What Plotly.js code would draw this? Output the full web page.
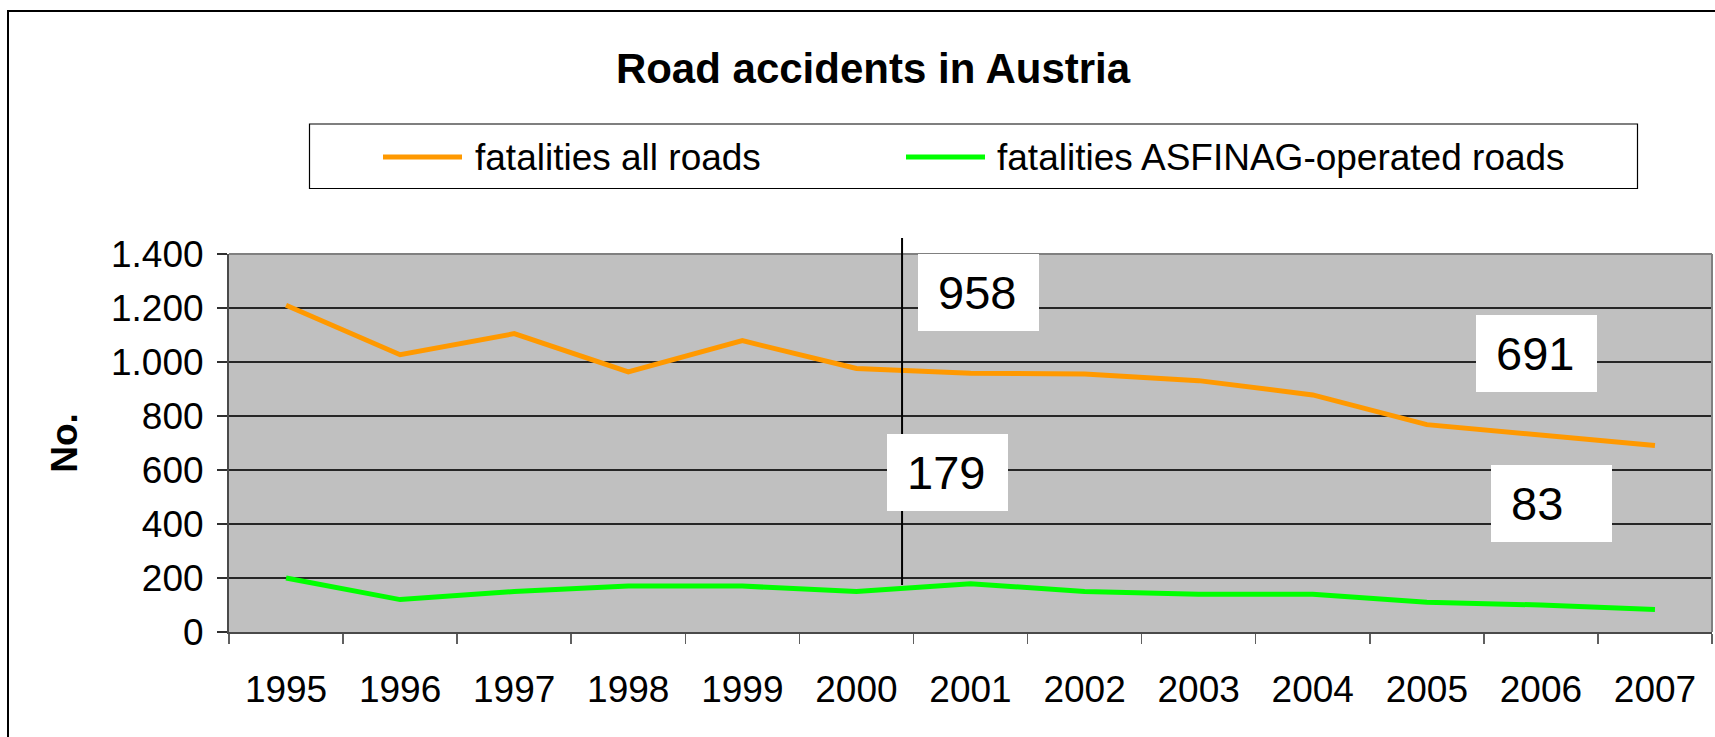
<!DOCTYPE html>
<html><head><meta charset="utf-8">
<script src="https://cdn.plot.ly/plotly-3.0.1.min.js"></script>
<style>html,body{margin:0;padding:0;background:#fff;overflow:hidden}</style>
</head><body><div id="chart" style="width:1715px;height:737px"></div>
<script>
// ---- data ----
const years = ['1995','1996','1997','1998','1999','2000','2001','2002','2003','2004','2005','2006','2007'];
const allRoads = [1210, 1027, 1105, 963, 1079, 976, 958, 956, 931, 878, 768, 730, 691];
const asfinag  = [200, 120, 150, 170, 170, 150, 179, 150, 140, 140, 110, 100, 83];
const seriesNames = ['fatalities all roads', 'fatalities ASFINAG-operated roads'];
const yTickVals = [0, 200, 400, 600, 800, 1000, 1200, 1400];
const chartTitle = 'Road accidents in Austria';
const yTitle = 'No.';

// ---- styling / layout ----
const W = 1715, H = 737;
const M = {l: 229, r: 3, t: 254, b: 105};
const pw = W - M.l - M.r, ph = H - M.t - M.b;
const px = x => (x - M.l) / pw;
const py = y => (H - M.b - y) / ph;
const FONT = 'Liberation Sans, Arial, Helvetica, sans-serif';
const colors = ['#FF9900', '#00FF00'];
const yMax = 1400;
const markerLineX = 5.4; // between 2000 and 2001 (category index)

const traces = [
  {x: years, y: allRoads, name: seriesNames[0], type: 'scatter', mode: 'lines',
   line: {color: colors[0], width: 5}, showlegend: false, hoverinfo: 'x+y'},
  {x: years, y: asfinag, name: seriesNames[1], type: 'scatter', mode: 'lines',
   line: {color: colors[1], width: 5}, showlegend: false, hoverinfo: 'x+y'}
];

// value label anchored at the data point (converted to paper fractions), shifted by pixels
function valueLabel(series, year, xs, ys) {
  const idx = years.indexOf(year);
  const val = series[idx];
  return {x: (idx + 0.5) / years.length, y: val / yMax, xref: 'paper', yref: 'paper',
    text: String(val), showarrow: false,
    xshift: xs, yshift: ys, xanchor: 'center', yanchor: 'middle',
    bgcolor: '#ffffff', borderwidth: 0, borderpad: 20, width: 81, height: 37, align: 'left', valign: 'middle',
    font: {family: FONT, size: 47, color: '#000'}};
}

const annotations = [
  valueLabel(allRoads, '2001', 7.5, 81.3),
  valueLabel(asfinag, '2001', -23, 110.9),
  valueLabel(allRoads, '2007', -118, 91.5),
  valueLabel(asfinag, '2007', -103, 105.8),
  {xref: 'paper', yref: 'paper', x: px(473), y: py(157), xanchor: 'left', yanchor: 'middle',
   text: seriesNames[0], showarrow: false, font: {family: FONT, size: 37, color: '#000'}},
  {xref: 'paper', yref: 'paper', x: px(995), y: py(157), xanchor: 'left', yanchor: 'middle',
   text: seriesNames[1], showarrow: false, font: {family: FONT, size: 37, color: '#000'}}
];

const shapes = [
  // outer chart border
  {type: 'rect', xref: 'paper', yref: 'paper', x0: px(8), x1: px(1760), y0: py(780), y1: py(11),
   line: {color: '#000', width: 2}, fillcolor: 'rgba(0,0,0,0)', layer: 'above'},
  // legend box
  {type: 'rect', xref: 'paper', yref: 'paper', x0: px(309.5), x1: px(1637.5), y0: py(188.5), y1: py(124),
   line: {color: '#000', width: 1.2}, fillcolor: 'rgba(0,0,0,0)'},
  // legend line samples
  {type: 'line', xref: 'paper', yref: 'paper', x0: px(383), x1: px(462), y0: py(157), y1: py(157),
   line: {color: colors[0], width: 5}},
  {type: 'line', xref: 'paper', yref: 'paper', x0: px(906), x1: px(985), y0: py(157), y1: py(157),
   line: {color: colors[1], width: 5}},
  // plot area border (top and right, lighter gray)
  {type: 'line', xref: 'paper', yref: 'paper', x0: 0, x1: 1, y0: 1, y1: 1,
   line: {color: '#808080', width: 2}, layer: 'above'},
  {type: 'line', xref: 'paper', yref: 'paper', x0: 1, x1: 1, y0: 0, y1: 1,
   line: {color: '#808080', width: 2}, layer: 'above'},
  // vertical marker line
  {type: 'line', xref: 'paper', yref: 'paper', x0: (markerLineX + 0.5) / years.length, x1: (markerLineX + 0.5) / years.length,
   y0: py(585), y1: py(238), line: {color: '#000', width: 2}, layer: 'above'}
];

const layout = {
  width: W, height: H,
  margin: M,
  paper_bgcolor: '#ffffff',
  plot_bgcolor: '#C0C0C0',
  separators: ',.',
  font: {family: FONT, color: '#000'},
  title: {text: chartTitle, x: 873 / W, xanchor: 'center', y: 1 - 68 / H, yanchor: 'middle',
    yref: 'container', xref: 'container',
    font: {family: FONT, size: 42, weight: 'bold', color: '#000'}},
  showlegend: false,
  xaxis: {type: 'category', range: [-0.5, 12.5], tickson: 'boundaries', ticks: 'outside', ticklen: 10,
    tickcolor: '#606060', tickwidth: 1.5, showgrid: false, zeroline: false,
    showline: true, linecolor: '#4a4a4a', linewidth: 2, mirror: false,
    tickfont: {family: FONT, size: 37, color: '#000'}, ticklabelstandoff: 24, fixedrange: true},
  yaxis: {range: [0, yMax], tickvals: yTickVals, tickformat: ',d', ticks: 'outside', ticklen: 10,
    tickcolor: '#303030', tickwidth: 1.2, showgrid: true, gridcolor: '#262626', gridwidth: 1.3, zeroline: false,
    showline: true, linecolor: '#4a4a4a', linewidth: 2, mirror: false,
    tickfont: {family: FONT, size: 37, color: '#000'}, ticklabelstandoff: 6,
    title: {text: yTitle, font: {family: FONT, size: 37, weight: 'bold', color: '#000'}, standoff: 22},
    fixedrange: true},
  annotations: annotations,
  shapes: shapes
};

Plotly.newPlot('chart', traces, layout, {staticPlot: true, displayModeBar: false});
</script>
</body></html>
